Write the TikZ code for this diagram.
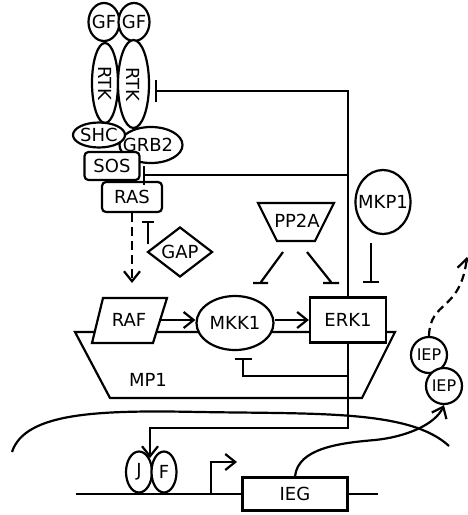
\documentclass[tikz,border=0pt]{standalone}
\usepackage{fontspec}
\usepackage{graphicx}
\setmainfont{DejaVu Sans}
\usetikzlibrary{shapes.geometric,arrows.meta}
\newcommand\zt[1]{\makebox[0pt]{#1}}
\begin{document}
\begin{tikzpicture}[x=1pt,y=-1pt,
  every node/.style={font=\fontsize{18}{18}\selectfont},
  ln/.style={line width=2.2pt},
  ell/.style={ln,draw,ellipse,fill=white,inner sep=0pt},
  rbox/.style={ln,draw,rounded corners=4pt,fill=white,inner sep=0pt},
  sbox/.style={ln,draw,fill=white,inner sep=0pt},
  arr/.style={ln,-{Straight Barb[length=10pt,width=16pt,line width=2.2pt]}},
  inh/.style={ln,-{Bar[width=#1,line width=2.2pt]}}, inh/.default=17pt,
  dsh/.style={dash pattern=on 9pt off 5pt},
  small/.style={font=\fontsize{16}{16}\selectfont},
  gfs/.style={font=\fontsize{18}{18}\selectfont},
]
\useasboundingbox (0,0) rectangle (468,515);

% background shapes
\draw[ln] (75,332) -- (395,332) -- (362,398) -- (110,398) -- cycle;
\node (MP1) at (148,380) {MP1};
\draw[ln] (12,452) .. controls (25,412) and (100,410) .. (200,412)
          .. controls (320,414) and (410,410) .. (449,446);
\coordinate (dnaL) at (76,494);
\coordinate (dnaR) at (378,494);
\draw[ln] (dnaL) -- (dnaR);

% receptor complex
\node[ell,gfs,minimum width=31pt,minimum height=38pt] (gf1) at (104,22) {\zt{GF}};
\node[ell,gfs,minimum width=31pt,minimum height=38pt] (gf2) at (134,22) {\zt{GF}};
\node[ell,minimum width=26pt,minimum height=80pt] (rtk1) at (105,83) {\rotatebox{-90}{RTK}};
\node[ell,minimum width=31pt,minimum height=88pt] (rtk2) at (133.5,84) {\rotatebox{-90}{RTK}};
\node[ell,minimum width=63pt,minimum height=36pt] (grb2) at (151,145) {\zt{\hspace*{-6pt}GRB2}};
\node[ell,minimum width=52pt,minimum height=25pt] (shc) at (99,135) {\zt{SHC}};
\node[rbox,minimum width=55pt,minimum height=28pt] (sos) at (112,166) {SOS};
\node[rbox,minimum width=60pt,minimum height=30pt] (ras) at (132,197) {RAS};
\node[ln,draw,fill=white,diamond,inner sep=0pt,minimum width=65pt,minimum height=50pt] (gap) at (180,252) {\zt{GAP}};

% cascade
\draw[ln,fill=white] (258,203) -- (334,203) -- (315,241) -- (277,241) -- cycle;
\node (pp2a) at (297,221) {PP2A};
\node[ell,minimum width=55pt,minimum height=64pt] (mkp1) at (383,202) {\zt{MKP1}};
\draw[ln,fill=white] (103,298) -- (167,298) -- (153,343) -- (92,343) -- cycle;
\node (raf) at (129,320) {RAF};
\node[ell,minimum width=77pt,minimum height=54pt] (mkk1) at (235,323) {\zt{MKK1}};
\node[sbox,minimum width=76pt,minimum height=45pt] (erk1) at (348,320) {ERK1};

% nucleus
\node[ell,small,minimum width=36pt,minimum height=36pt] (iep1) at (429,355) {\zt{IEP}};
\node[ell,small,minimum width=36pt,minimum height=36pt] (iep2) at (444,386) {\zt{IEP}};
\node[ell,minimum width=26pt,minimum height=41pt] (j) at (139,472) {J};
\node[ell,minimum width=25pt,minimum height=41pt] (f) at (164,472) {F};
\node[sbox,minimum width=105pt,minimum height=33pt] (ieg) at (295,494) {IEG};

% coordinates
\coordinate (rafE) at (159,320);
\coordinate (c1) at (348,91);
\coordinate (rtkbar) at (155,91);
\coordinate (c2) at (348,175);
\coordinate (sosbar) at (143,175);
\coordinate (c3) at (348,428);
\coordinate (c4) at (348,376);
\coordinate (mkkbar) at (243,358);
\coordinate (jf) at (150,428);
\coordinate (jftip) at (150,458);
\coordinate (rastip) at (132,283);
\coordinate (gapst) at (148,244);
\coordinate (gapbar) at (148,221);
\coordinate (mkpst) at (371,243);
\coordinate (mkpbar) at (371,283);
\coordinate (prom) at (211,494);
\coordinate (promtop) at (211,462);
\coordinate (promtip) at (237,462);
\coordinate (iepout) at (467,257);

% connectors
\draw[inh=22pt] (erk1.north) -- (c1) -- (rtkbar);
\draw[inh=19pt] (c2) -- (sosbar);
\draw[arr] (erk1.south) -- (c3) -- (jf) -- (jftip);
\draw[inh] (c4) -| (mkkbar);
\draw[arr] (rafE) -- (rafE -| mkk1.west);
\draw[arr] (mkk1.east |- erk1.west) -- (erk1.west);
\draw[arr,dsh] (ras.south) -- (rastip);
\draw[inh=12pt] (gapst) -- (gapbar);
\draw[inh=16pt] (mkpst) -- (mkpbar);
\draw[ln] (283,252) -- (261,282) (253,283) -- (268,283);
\draw[ln] (307,252) -- (331,282) (323,283) -- (339,283);
\draw[arr] (prom) -- (promtop) -- (promtip);
\draw[arr] (ieg.north) .. controls (298,448) and (340,443) .. (375,440)
          .. controls (405,437) and (435,425) .. (iep2.south);
\draw[arr,dash pattern=on 8pt off 5pt] (iep1.north) .. controls (430,300) and (460,312) .. (iepout);
\end{tikzpicture}
\end{document}
